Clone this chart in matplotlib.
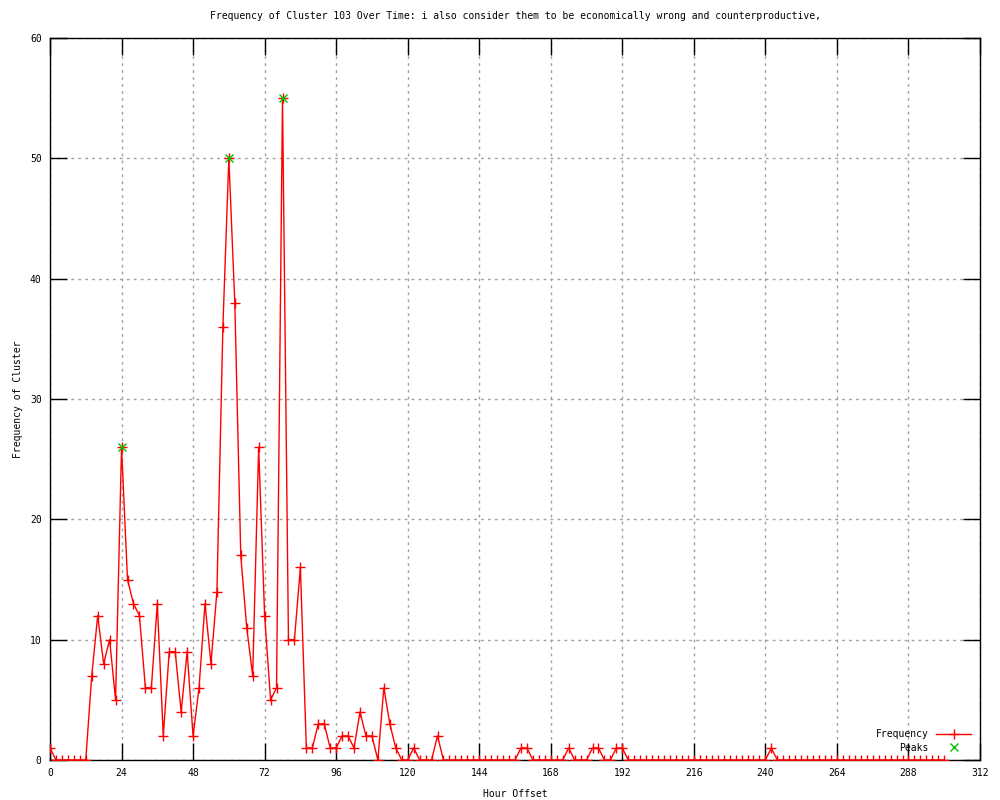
import matplotlib
matplotlib.use("Agg")
import matplotlib.pyplot as plt

TITLE = "Frequency of Cluster 103 Over Time: i also consider them to be economically wrong and counterproductive,"

# hour offsets sampled every 2 hours
hours = list(range(0, 302, 2))

# frequency per 2-hour bin (0 .. 130 explicitly)
freq_head = [1, 0, 0, 0, 0, 0, 0, 7, 12, 8, 10, 5, 26, 15, 13, 12, 6, 6, 13, 2,
             9, 9, 4, 9, 2, 6, 13, 8, 14, 36, 50, 38, 17, 11, 7, 26, 12, 5, 6, 55,
             10, 10, 16, 1, 1, 3, 3, 1, 1, 2, 2, 1, 4, 2, 2, 0, 6, 3, 1, 0,
             0, 1, 0, 0, 0, 2]
# isolated single hits later on (hour -> count)
late_hits = {158: 1, 160: 1, 174: 1, 182: 1, 184: 1, 190: 1, 192: 1, 242: 1}

frequency = []
for i, h in enumerate(hours):
    if i < len(freq_head):
        frequency.append(freq_head[i])
    else:
        frequency.append(late_hits.get(h, 0))

peak_hours = [24, 60, 78]
peak_values = [26, 50, 55]

x_ticks = list(range(0, 313, 24))
y_ticks = list(range(0, 61, 10))

plt.rcParams["font.family"] = ["DejaVu Sans Mono"]
plt.rcParams["font.size"] = 7

fig = plt.figure(figsize=(10, 8), dpi=100)
ax = fig.add_axes([0.05, 0.05, 0.93, 0.9025])

ax.plot(hours, frequency, color="red", linewidth=1, marker="+",
        markersize=7, markeredgewidth=1, label="Frequency", zorder=3)
ax.plot(peak_hours, peak_values, linestyle="none", color="#00c000", marker="x",
        markersize=6, markeredgewidth=1, label="Peaks", zorder=4)

ax.set_xlim(0, 312)
ax.set_ylim(0, 60)
ax.set_xticks(x_ticks)
ax.set_yticks(y_ticks)
ax.tick_params(direction="in", length=12, width=1, top=True, right=True,
               labelsize=7, pad=6, colors="black")
ax.grid(True, color="#a0a0a0", linestyle=(0, (2, 3)), linewidth=1)
for s in ax.spines.values():
    s.set_linewidth(1)

ax.set_title(TITLE, fontsize=7, pad=14)
ax.set_xlabel("Hour Offset", fontsize=7, labelpad=8)
ax.set_ylabel("Frequency of Cluster", fontsize=7, labelpad=5)

ax.legend(loc="lower right", bbox_to_anchor=(1.0, -0.002), frameon=False,
          markerfirst=False, handlelength=3.6, handletextpad=0.8,
          labelspacing=0.35, fontsize=7)

fig.savefig("out.png", dpi=100)
